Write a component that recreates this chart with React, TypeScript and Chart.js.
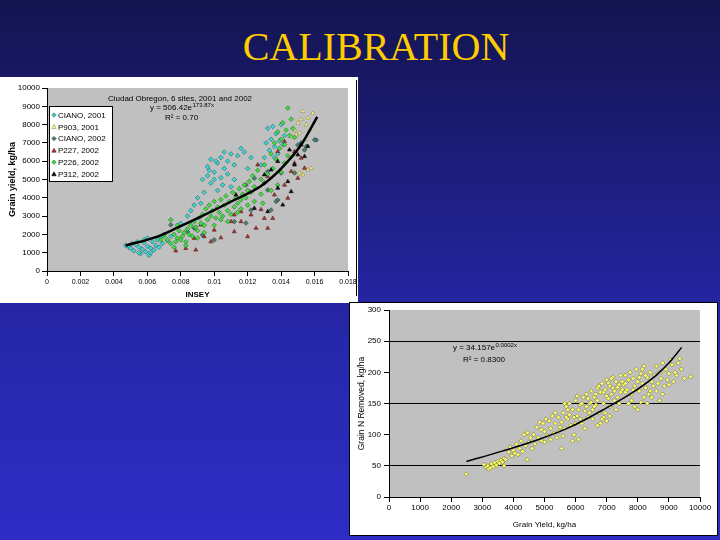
import React, { useEffect, useRef } from "react";
import { Chart, registerables } from "chart.js";
Chart.register(...registerables);

type Pt = [number, number];

// ---------------- Chart 1 (INSEY vs grain yield) ----------------
const inseyTickLabels = ["0", "0.002", "0.004", "0.006", "0.008", "0.01", "0.012", "0.014", "0.016", "0.018"];
const yieldTickLabels = ["0", "1000", "2000", "3000", "4000", "5000", "6000", "7000", "8000", "9000", "10000"];
const chart1Title = "Ciudad Obregon, 6 sites, 2001 and 2002";
const chart1Equation = "y = 506.42e";
const chart1Exponent = "173.87x";
const chart1R2 = "R² = 0.70";
const legendLabels = ["CIANO, 2001", "P903, 2001", "CIANO, 2002", "P227, 2002", "P226, 2002", "P312, 2002"];

const cianoPts: Pt[] = [
  [0.0047, 1400], [0.0049, 1300], [0.005, 1250], [0.0051, 1500], [0.0052, 1100], [0.0053, 1450], [0.0054, 1600],
  [0.0055, 1300], [0.0056, 950], [0.0057, 1200], [0.0058, 1550], [0.0058, 1700], [0.0059, 1050], [0.006, 1350],
  [0.006, 1800], [0.0061, 850], [0.0062, 1250], [0.0063, 1600], [0.0064, 1150], [0.0065, 1400], [0.0066, 1700],
  [0.0067, 1300], [0.0068, 1850], [0.0069, 1500], [0.007, 2000], [0.0072, 1650], [0.0074, 1900], [0.0055, 1000],
  [0.0062, 1000], [0.008, 2600], [0.0084, 3000], [0.0086, 3300], [0.0088, 3600], [0.009, 4000], [0.0092, 3700],
  [0.0094, 4300], [0.0096, 5200], [0.0096, 5700], [0.0098, 4800], [0.0098, 6100], [0.01, 5000], [0.01, 5400],
  [0.0102, 4400], [0.0102, 5900], [0.0104, 5100], [0.0104, 6200], [0.0106, 5600], [0.0106, 6500], [0.0108, 5300],
  [0.0108, 6000], [0.011, 4600], [0.011, 6400], [0.0112, 5000], [0.0112, 5800], [0.0114, 6300], [0.0116, 6700],
  [0.0118, 6500], [0.012, 5600], [0.0122, 6200], [0.0105, 4700], [0.0093, 5000], [0.0097, 5500], [0.0101, 6000],
  [0.0128, 5800], [0.013, 6200], [0.0132, 7800], [0.0133, 6600], [0.0134, 7200], [0.0135, 7900], [0.0136, 6200],
  [0.0136, 6800], [0.0137, 7500], [0.0138, 6400], [0.0139, 7100], [0.014, 8000], [0.0141, 6900], [0.0142, 7400],
  [0.0131, 7000],
];
const p903Pts: Pt[] = [
  [0.015, 8080], [0.0153, 8720], [0.0159, 8630], [0.0152, 8270], [0.0155, 7990], [0.0148, 7720], [0.0151, 7540],
  [0.0157, 7720], [0.0146, 7350], [0.0154, 7170], [0.0158, 5620], [0.0156, 5530], [0.0151, 5350], [0.0148, 5440],
  [0.0153, 5260], [0.0149, 7450], [0.0156, 8360],
];
const ciano02Pts: Pt[] = [
  [0.015, 6885], [0.0161, 7160], [0.0154, 6610], [0.0148, 5355], [0.0138, 3880], [0.0132, 4426], [0.013, 4810],
  [0.0122, 3330], [0.0119, 2620], [0.0134, 3330], [0.014, 5355], [0.016, 7170], [0.0155, 6800], [0.0152, 7000],
  [0.0137, 3800], [0.0132, 5440], [0.0124, 5070], [0.0119, 4700], [0.0112, 2700], [0.01, 1700], [0.0093, 1970],
  [0.0084, 2150], [0.0074, 2520], [0.0088, 2340],
];
const p227Pts: Pt[] = [
  [0.0077, 1100], [0.0083, 1240], [0.0088, 1790], [0.0089, 1150], [0.0098, 1600], [0.01, 2240], [0.0104, 1820],
  [0.0112, 2150], [0.0116, 2700], [0.012, 1880], [0.0122, 3070], [0.0125, 2340], [0.0128, 3360], [0.013, 2880],
  [0.0132, 2340], [0.0135, 2880], [0.0126, 5800], [0.0132, 5160], [0.0136, 4160], [0.0142, 4700], [0.0144, 3980],
  [0.0146, 5440], [0.0148, 5900], [0.015, 5070], [0.0152, 6170], [0.0154, 5620], [0.0121, 4340], [0.0116, 3250],
  [0.011, 2700], [0.0092, 2520], [0.0094, 1880], [0.0112, 3070], [0.0138, 6530], [0.0142, 7080], [0.0148, 6530],
];
const p226Pts: Pt[] = [
  [0.0072, 1700], [0.0074, 1500], [0.0076, 2000], [0.0077, 1600], [0.0078, 1800], [0.0079, 2200], [0.008, 1700],
  [0.0081, 1900], [0.0082, 2100], [0.0083, 1600], [0.0084, 2300], [0.0085, 2000], [0.0086, 2500], [0.0087, 1900],
  [0.0088, 2700], [0.0089, 2400], [0.009, 2200], [0.0091, 2900], [0.0092, 2600], [0.0093, 3100], [0.0094, 2500],
  [0.0095, 3400], [0.0096, 2800], [0.0097, 3600], [0.0098, 3000], [0.0099, 3300], [0.01, 3800], [0.0101, 2900],
  [0.0102, 3500], [0.0103, 3200], [0.0104, 3900], [0.0105, 3000], [0.0106, 3600], [0.0107, 4100], [0.0108, 3300],
  [0.0109, 3800], [0.011, 3100], [0.0111, 4300], [0.0112, 3500], [0.0113, 4000], [0.0114, 3700], [0.0115, 4500],
  [0.0116, 3900], [0.0117, 4200], [0.0118, 4700], [0.0119, 4000], [0.012, 4400], [0.0121, 4900], [0.0122, 4300],
  [0.0123, 5200], [0.0124, 4600], [0.0126, 5500], [0.0128, 5000], [0.013, 5800], [0.0132, 5300], [0.0134, 6400],
  [0.0135, 5600], [0.0136, 7000], [0.0137, 6100], [0.0138, 7600], [0.0139, 6700], [0.014, 7200], [0.0141, 8100],
  [0.0142, 6900], [0.0143, 7700], [0.0144, 8900], [0.0145, 7400], [0.0146, 8300], [0.0147, 7800], [0.014, 5400],
  [0.0138, 4700], [0.0134, 4400], [0.0129, 3700], [0.0114, 3200], [0.0108, 2700], [0.01, 2500], [0.0094, 2100],
  [0.009, 1800], [0.0083, 1400], [0.0076, 1300], [0.007, 1900], [0.0068, 1700], [0.0078, 2500], [0.0074, 2800],
  [0.0104, 2800], [0.0116, 3400], [0.012, 3600], [0.0128, 4200], [0.0124, 3800], [0.0144, 6300], [0.0142, 5900],
  [0.0148, 7300],
];
const p312Pts: Pt[] = [
  [0.0124, 3430], [0.0132, 3250], [0.0138, 4530], [0.0141, 3610], [0.0144, 4890], [0.0146, 4340], [0.0148, 5800],
  [0.015, 6350], [0.0152, 6900], [0.0154, 6260], [0.0156, 6810], [0.0134, 5530], [0.013, 5260], [0.0138, 5990],
  [0.0145, 6620], [0.0113, 4160],
];
const trend1Pts: Pt[] = [
  [0.0047, 1390], [0.0066, 1880], [0.0078, 2370], [0.0092, 2970], [0.0112, 3880], [0.0128, 4650], [0.014, 5600],
  [0.0152, 6900], [0.01616, 8420],
];

// ---------------- Chart 2 (grain yield vs N removed) ----------------
const grainYieldTickLabels = ["0", "1000", "2000", "3000", "4000", "5000", "6000", "7000", "8000", "9000", "10000"];
const nRemovedTickLabels = ["0", "50", "100", "150", "200", "250", "300"];
const nGridValues = [50, 150, 250];
const chart2Equation = "y = 34.157e";
const chart2Exponent = "0.0002x";
const chart2R2 = "R² = 0.8300";

const nRemovedPts: Pt[] = [
  [2480, 37], [3050, 52], [3120, 48], [3180, 50], [3200, 45], [3260, 47], [3300, 53], [3350, 49], [3400, 55],
  [3450, 51], [3500, 57], [3550, 54], [3600, 59], [3650, 56], [3700, 50], [3700, 62], [3750, 60], [3850, 72],
  [3900, 80], [3950, 66], [4000, 75], [4050, 70], [4100, 85], [4150, 68], [4200, 78], [4250, 90], [4300, 73],
  [4350, 100], [4400, 82], [4450, 103], [4450, 60], [4500, 88], [4550, 95], [4600, 78], [4650, 100], [4700, 85],
  [4750, 112], [4800, 95], [4850, 120], [4900, 90], [4950, 118], [5000, 105], [5050, 125], [5100, 98], [5150, 122],
  [5200, 110], [5250, 130], [5300, 102], [5350, 118], [5400, 95], [5450, 128], [5500, 112], [5000, 88], [5200, 92],
  [4900, 108], [5350, 135], [5450, 105], [5550, 78], [5550, 120], [5600, 135], [5650, 110], [5700, 145], [5750, 125],
  [5800, 150], [5850, 115], [5900, 140], [5950, 100], [6000, 155], [6050, 130], [6100, 92], [6150, 148], [6200, 118],
  [6250, 160], [6300, 138], [6350, 165], [6400, 128], [6450, 150], [6500, 170], [5800, 132], [6000, 118], [6100, 140],
  [6300, 110], [6200, 150], [5600, 98], [5900, 90], [6400, 158], [5700, 128], [6050, 162], [6550, 140], [6600, 160],
  [6650, 148], [6700, 175], [6750, 135], [6800, 168], [6850, 182], [6900, 150], [6950, 172], [7000, 188], [7050, 158],
  [7100, 178], [7150, 165], [7200, 192], [7250, 170], [7300, 185], [7350, 160], [7400, 180], [7450, 195], [7500, 172],
  [6700, 155], [6800, 118], [6900, 128], [7000, 162], [7100, 145], [7200, 175], [7300, 140], [6600, 145], [7400, 150],
  [7500, 185], [6850, 125], [7000, 122], [7100, 130], [6950, 135], [6700, 115], [7550, 180], [7600, 195], [7650, 172],
  [7700, 188], [7750, 200], [7800, 165], [7850, 190], [7900, 178], [7950, 205], [8000, 185], [8050, 170], [8100, 198],
  [8150, 182], [8200, 210], [8250, 175], [8300, 192], [8350, 165], [8400, 200], [8450, 185], [8500, 178], [7700, 150],
  [7900, 145], [8100, 152], [8200, 160], [8000, 140], [7800, 155], [8300, 150], [8400, 170], [7600, 168], [8150, 205],
  [8550, 195], [8600, 210], [8650, 182], [8700, 200], [8750, 190], [8800, 215], [8850, 178], [8900, 205], [8950, 188],
  [9000, 198], [9100, 212], [9150, 185], [9200, 200], [9300, 215], [9400, 205], [9500, 190], [9350, 222], [9700, 193],
  [8600, 170], [8800, 165], [9000, 180], [8700, 155], [9050, 220], [9250, 195], [6500, 152], [6650, 165], [6750, 178],
  [6900, 168], [7050, 183], [7150, 190], [7350, 176], [7450, 168], [7250, 155], [7600, 182], [7850, 172], [8050, 192],
  [8250, 195], [8450, 160], [6350, 145], [6150, 125], [5950, 128], [5750, 140], [5650, 150], [6550, 125], [6450, 135],
];
const trend2Pts: Pt[] = [
  [2490, 57], [3669, 74], [4744, 91], [5816, 112], [6888, 140], [7963, 172], [8606, 196], [9034, 217], [9411, 240],
];

const toXY = (a: Pt[]) => a.map(([x, y]) => ({ x, y }));

const FONT = "'Liberation Sans', Arial, sans-serif";

const series1 = [
  { data: cianoPts, bg: "#3fd6d6", border: "#1f5f5f", style: "rectRot" },
  { data: p903Pts, bg: "#ffff99", border: "#8a8a40", style: "triangle" },
  { data: ciano02Pts, bg: "#4a8070", border: "#22443a", style: "rectRot" },
  { data: p227Pts, bg: "#a83838", border: "#5a1a1a", style: "triangle" },
  { data: p226Pts, bg: "#44dd44", border: "#1e6e1e", style: "rectRot" },
  { data: p312Pts, bg: "#111111", border: "#000000", style: "triangle" },
];

function drawMarker(ctx: CanvasRenderingContext2D, style: string, x: number, y: number, r: number, bg: string, border: string) {
  ctx.beginPath();
  if (style === "triangle") {
    ctx.moveTo(x, y - r);
    ctx.lineTo(x + r, y + r * 0.8);
    ctx.lineTo(x - r, y + r * 0.8);
  } else {
    ctx.moveTo(x, y - r);
    ctx.lineTo(x + r, y);
    ctx.lineTo(x, y + r);
    ctx.lineTo(x - r, y);
  }
  ctx.closePath();
  ctx.fillStyle = bg;
  ctx.fill();
  ctx.strokeStyle = border;
  ctx.lineWidth = 0.6;
  ctx.stroke();
}

function drawEquation(ctx: CanvasRenderingContext2D, base: string, exp: string, r2: string, x: number, y: number, rx: number, ry: number) {
  ctx.fillStyle = "#000";
  ctx.textAlign = "left";
  ctx.textBaseline = "middle";
  ctx.font = `8px ${FONT}`;
  ctx.fillText(base, x, y);
  const w = ctx.measureText(base).width;
  ctx.font = `6px ${FONT}`;
  ctx.fillText(exp, x + w + 0.5, y - 3);
  ctx.font = `8px ${FONT}`;
  ctx.fillText(r2, rx, ry);
}

const chart1Overlay = {
  id: "chart1Overlay",
  afterDatasetsDraw(chart: any) {
    const ctx: CanvasRenderingContext2D = chart.ctx;
    ctx.save();
    ctx.fillStyle = "#000";
    ctx.font = `8px ${FONT}`;
    ctx.textAlign = "center";
    ctx.textBaseline = "middle";
    ctx.fillText(chart1Title, 180, 22);
    drawEquation(ctx, chart1Equation, chart1Exponent, chart1R2, 150, 31, 165, 41);
    ctx.fillStyle = "#fff";
    ctx.fillRect(49, 29, 63, 75);
    ctx.strokeStyle = "#000";
    ctx.lineWidth = 1;
    ctx.strokeRect(49.5, 29.5, 63, 75);
    series1.forEach((s, i) => {
      const y = 38 + i * 11.8;
      drawMarker(ctx, s.style, 54, y, 2.2, s.bg, s.border);
      ctx.fillStyle = "#000";
      ctx.font = `8px ${FONT}`;
      ctx.textAlign = "left";
      ctx.textBaseline = "middle";
      ctx.fillText(legendLabels[i], 58, y + 0.5);
    });
    ctx.restore();
  },
};

const chart2Overlay = {
  id: "chart2Overlay",
  afterDatasetsDraw(chart: any) {
    const ctx: CanvasRenderingContext2D = chart.ctx;
    ctx.save();
    drawEquation(ctx, chart2Equation, chart2Exponent, chart2R2, 103, 45, 113, 57);
    ctx.restore();
  },
};

const plotBg = {
  id: "plotBg",
  beforeDraw(chart: any) {
    const { ctx, chartArea } = chart;
    ctx.save();
    ctx.fillStyle = "#fff";
    ctx.fillRect(0, 0, chart.width, chart.height);
    ctx.fillStyle = "#c0c0c0";
    ctx.fillRect(chartArea.left, chartArea.top, chartArea.right - chartArea.left, chartArea.bottom - chartArea.top);
    ctx.restore();
  },
};

export default function App() {
  const ref1 = useRef<HTMLCanvasElement>(null);
  const ref2 = useRef<HTMLCanvasElement>(null);

  useEffect(() => {
    document.body.style.margin = "0";
    Chart.defaults.font.family = FONT;
    Chart.defaults.font.size = 8;
    Chart.defaults.color = "#000";

    const ds1: any[] = series1.map((s, i) => ({
      label: legendLabels[i],
      data: toXY(s.data),
      pointStyle: s.style,
      pointRadius: 2.3,
      pointBackgroundColor: s.bg,
      pointBorderColor: s.border,
      pointBorderWidth: 0.6,
      showLine: false,
      order: 10 - i,
    }));
    ds1.push({
      label: "trend",
      data: toXY(trend1Pts),
      showLine: true,
      borderColor: "#000",
      borderWidth: 2.5,
      pointRadius: 0,
      cubicInterpolationMode: "monotone",
      order: 0,
    });

    const c1 = new Chart(ref1.current!, {
      type: "scatter",
      data: { datasets: ds1 },
      plugins: [plotBg, chart1Overlay],
      options: {
        animation: false,
        responsive: false,
        events: [],
        layout: { padding: { top: 11, right: 10, left: 0, bottom: 0 } },
        plugins: { legend: { display: false }, tooltip: { enabled: false } },
        scales: {
          x: {
            type: "linear",
            min: 0,
            max: 0.018,
            afterFit: (s: any) => {
              s.height = 32;
              s.paddingLeft = 0;
              s.paddingRight = 0;
            },
            ticks: {
              stepSize: 0.002,
              autoSkip: false,
              maxRotation: 0,
              padding: 2,
              font: { size: 7 },
              callback: (_v: any, i: number) => inseyTickLabels[i],
            },
            grid: { drawOnChartArea: false, drawTicks: true, tickLength: 5, tickColor: "#000" },
            border: { display: true, color: "#000", width: 1 },
            title: { display: true, text: "INSEY", font: { size: 8, weight: "bold" }, padding: { top: 0, bottom: 3 } },
          },
          y: {
            type: "linear",
            min: 0,
            max: 10000,
            afterFit: (s: any) => {
              s.width = 47;
              s.paddingTop = 0;
              s.paddingBottom = 0;
            },
            ticks: {
              stepSize: 1000,
              autoSkip: false,
              padding: 2,
              font: { size: 8 },
              callback: (_v: any, i: number) => yieldTickLabels[i],
            },
            grid: { drawOnChartArea: false, drawTicks: true, tickLength: 5, tickColor: "#000" },
            border: { display: true, color: "#000", width: 1 },
            title: {
              display: true,
              text: "Grain yield, kg/ha",
              font: { size: 9, weight: "bold" },
              padding: { top: 7, bottom: 0 },
            },
          },
        },
      } as any,
    });

    const c2 = new Chart(ref2.current!, {
      type: "scatter",
      data: {
        datasets: [
          {
            label: "Grain N removed",
            data: toXY(nRemovedPts),
            pointStyle: "rectRot",
            pointRadius: 2.2,
            pointBackgroundColor: "#ffff66",
            pointBorderColor: "#5a5a30",
            pointBorderWidth: 0.5,
            showLine: false,
            order: 2,
          },
          {
            label: "trend",
            data: toXY(trend2Pts),
            showLine: true,
            borderColor: "#000",
            borderWidth: 1.5,
            pointRadius: 0,
            cubicInterpolationMode: "monotone",
            order: 0,
          } as any,
        ],
      },
      plugins: [plotBg, chart2Overlay],
      options: {
        animation: false,
        responsive: false,
        events: [],
        layout: { padding: { top: 7, right: 17, left: 0, bottom: 0 } },
        plugins: { legend: { display: false }, tooltip: { enabled: false } },
        scales: {
          x: {
            type: "linear",
            min: 0,
            max: 10000,
            afterFit: (s: any) => {
              s.height = 38;
              s.paddingLeft = 0;
              s.paddingRight = 0;
            },
            ticks: {
              stepSize: 1000,
              autoSkip: false,
              maxRotation: 0,
              padding: 1,
              font: { size: 8 },
              callback: (_v: any, i: number) => grainYieldTickLabels[i],
            },
            grid: { drawOnChartArea: false, drawTicks: true, tickLength: 5, tickColor: "#000" },
            border: { display: true, color: "#000", width: 1 },
            title: {
              display: true,
              text: "Grain Yield, kg/ha",
              font: { size: 8 },
              padding: { top: 0, bottom: 5 },
            },
          },
          y: {
            type: "linear",
            min: 0,
            max: 300,
            afterFit: (s: any) => {
              s.width = 39;
              s.paddingTop = 0;
              s.paddingBottom = 0;
            },
            ticks: {
              stepSize: 50,
              autoSkip: false,
              padding: 3,
              font: { size: 8 },
              callback: (_v: any, i: number) => nRemovedTickLabels[i],
            },
            grid: {
              drawOnChartArea: true,
              drawTicks: true,
              tickLength: 5,
              tickColor: "#000",
              color: (c: any) => (c.tick && nGridValues.includes(c.tick.value) ? "#000" : "rgba(0,0,0,0)"),
              lineWidth: 1,
            },
            border: { display: true, color: "#000", width: 1 },
            title: {
              display: true,
              text: "Grain N Removed, kg/ha",
              font: { size: 8.5 },
              padding: { top: 7, bottom: 0 },
            },
          },
        },
      } as any,
    });

    return () => {
      c1.destroy();
      c2.destroy();
    };
  }, []);

  return (
    <div
      style={{
        position: "fixed",
        left: 0,
        top: 0,
        width: 720,
        height: 540,
        overflow: "hidden",
        background: "linear-gradient(to bottom, #141450 0%, #1e1e82 35%, #2626a8 60%, #2d2dc6 100%)",
      }}
    >
      <div
        style={{
          position: "absolute",
          left: 0,
          top: 27,
          width: 752,
          textAlign: "center",
          fontFamily: "'Liberation Serif', 'Times New Roman', serif",
          fontSize: 40,
          lineHeight: "40px",
          color: "#ffcc00",
        }}
      >
        CALIBRATION
      </div>
      <canvas
        ref={ref1}
        width={358}
        height={226}
        style={{ position: "absolute", left: 0, top: 77, width: 358, height: 226, display: "block" }}
      />
      <div style={{ position: "absolute", left: 356, top: 80, width: 1, height: 216, background: "#000" }} />
      <div
        style={{
          position: "absolute",
          left: 349,
          top: 302,
          width: 367,
          height: 232,
          border: "1px solid #000",
          background: "#fff",
        }}
      >
        <canvas ref={ref2} width={367} height={232} style={{ display: "block", width: 367, height: 232 }} />
      </div>
    </div>
  );
}
